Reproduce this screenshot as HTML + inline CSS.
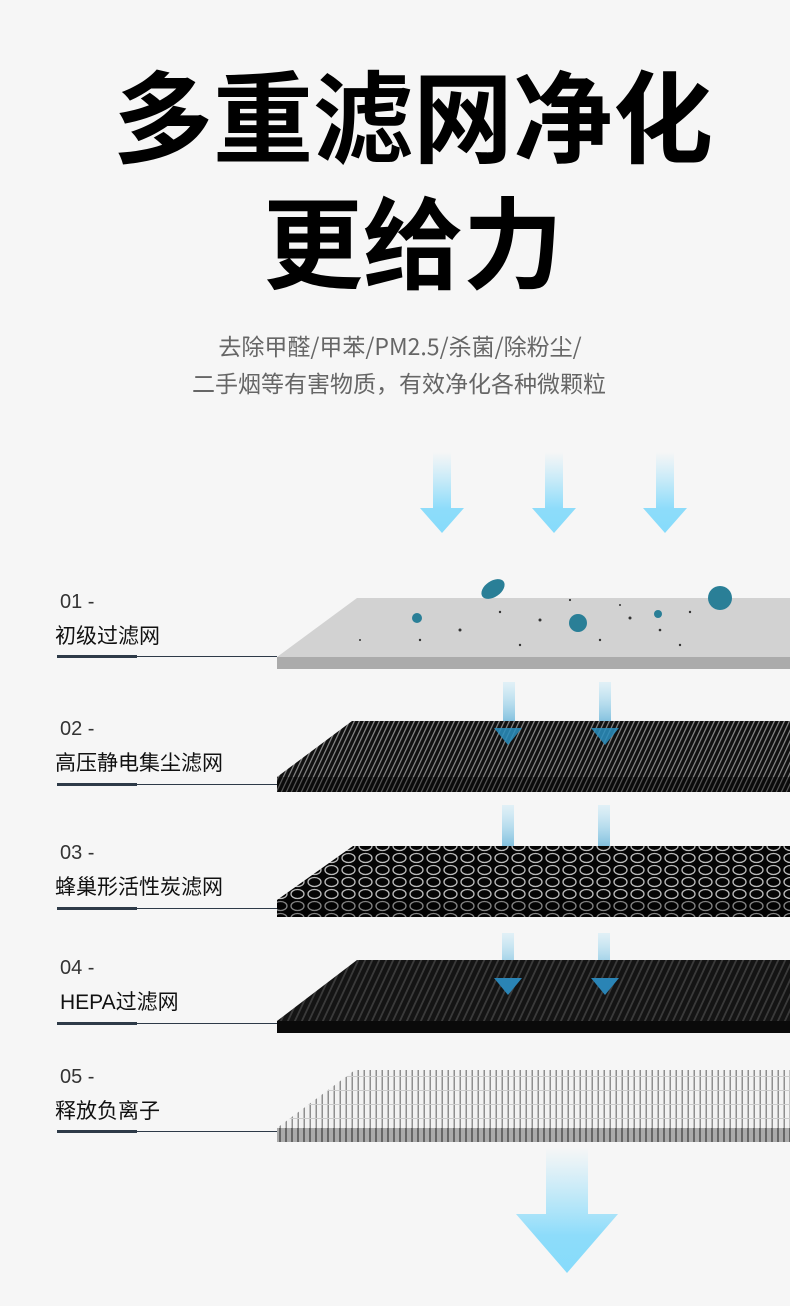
<!DOCTYPE html>
<html><head><meta charset="utf-8"><style>
html,body{margin:0;padding:0;background:#f6f6f6;}
body{width:790px;height:1306px;position:relative;overflow:hidden;font-family:"Liberation Sans","Noto Sans CJK SC",sans-serif;}
.t{position:absolute;left:0;width:826px;text-align:center;font-weight:700;font-size:100px;color:#000;line-height:1;font-family:"Noto Sans CJK SC",sans-serif;}
.s{position:absolute;left:0;width:800px;text-align:center;font-size:23px;color:#666;line-height:1;font-family:"Noto Sans CJK SC",sans-serif;}
.n{position:absolute;left:60px;font-size:20px;color:#333;line-height:1;}
.m{position:absolute;left:55px;font-size:21px;color:#111;line-height:1;font-family:"Liberation Sans","Noto Sans CJK SC",sans-serif;}
</style></head><body>
<div class="t" style="top:62px">多重滤网净化</div>
<div class="t" style="top:188px">更给力</div>
<div class="s" style="top:334px">去除甲醛/甲苯/PM2.5/杀菌/除粉尘/</div>
<div class="s" style="top:371px;left:-1px">二手烟等有害物质，有效净化各种微颗粒</div>

<svg width="790" height="1306" style="position:absolute;left:0;top:0">
<defs>
<linearGradient id="ag" x1="0" y1="0" x2="0" y2="1"><stop offset="0" stop-color="#9ee0fa" stop-opacity="0"/><stop offset="0.7" stop-color="#8ddcfa"/><stop offset="1" stop-color="#86dbfb"/></linearGradient>
<linearGradient id="ag2" x1="0" y1="0" x2="0" y2="1"><stop offset="0" stop-color="#8fd8f6" stop-opacity="0.2"/><stop offset="1" stop-color="#2f8fbf"/></linearGradient>
<pattern id="p2" width="5" height="10" patternUnits="userSpaceOnUse" patternTransform="skewX(-25)"><rect width="5" height="10" fill="#111"/><rect width="1.3" height="10" fill="#8a8a8a"/></pattern>
<pattern id="p3" width="17" height="12" patternUnits="userSpaceOnUse"><rect width="17" height="12" fill="#050505"/><ellipse cx="8.5" cy="6" rx="6.5" ry="4.5" fill="none" stroke="#bbb" stroke-width="1.3"/></pattern>
<pattern id="p4" width="7" height="10" patternUnits="userSpaceOnUse" patternTransform="skewX(-25)"><rect width="7" height="10" fill="#141414"/><rect width="2" height="10" fill="#3a3a3a"/></pattern>
<pattern id="p5" width="6" height="14" patternUnits="userSpaceOnUse"><rect width="6" height="14" fill="#f2f2f2"/><rect x="3.5" width="1.5" height="14" fill="#8f8f8f"/><rect y="12" width="6" height="1" fill="#ccc"/></pattern>
<pattern id="p5e" width="6" height="10" patternUnits="userSpaceOnUse"><rect width="6" height="10" fill="#aaa"/><rect x="3" width="2" height="10" fill="#666"/></pattern>
</defs>

<g fill="url(#ag)">
<path d="M433 452h18v56h13l-22 25-22-25h13z"/>
<path d="M545 452h18v56h13l-22 25-22-25h13z"/>
<path d="M656 452h18v56h13l-22 25-22-25h13z"/>
</g>

<path d="M357 598H790V657H277Z" fill="#d2d2d2"/>
<rect x="277" y="657" width="513" height="12" fill="#ababab"/>
<g fill="#333">
<circle cx="420" cy="640" r="1.2"/><circle cx="460" cy="630" r="1.5"/><circle cx="520" cy="645" r="1.2"/><circle cx="540" cy="620" r="1.5"/><circle cx="600" cy="640" r="1.2"/><circle cx="630" cy="618" r="1.5"/><circle cx="660" cy="630" r="1.3"/><circle cx="680" cy="645" r="1.2"/><circle cx="620" cy="605" r="1"/><circle cx="690" cy="612" r="1.2"/><circle cx="570" cy="600" r="1.1"/><circle cx="360" cy="640" r="1"/><circle cx="500" cy="612" r="1.2"/>
</g>
<g fill="#2a7f97"><circle cx="417" cy="618" r="5"/><ellipse cx="493" cy="589" rx="13" ry="8" transform="rotate(-35 493 589)"/><circle cx="578" cy="623" r="9"/><circle cx="658" cy="614" r="4"/><circle cx="720" cy="598" r="12"/></g>

<g fill="url(#ag2)">
<path d="M503 682h12v46h7l-14 17-14-17h9z"/>
<path d="M599 682h12v46h8l-14 17-14-17h8z"/>
</g>
<path d="M352 721H790V777H277Z" fill="url(#p2)"/>
<rect x="277" y="777" width="513" height="15" fill="url(#p2)"/>
<rect x="277" y="777" width="513" height="15" fill="#000" opacity="0.35"/>
<g fill="#2a8fbf" opacity="0.85"><path d="M494 728h28l-14 17z"/><path d="M591 728h28l-14 17z"/></g>

<g fill="url(#ag2)">
<path d="M502 805h12v46h8l-14 19-14-19h8z"/>
<path d="M598 805h12v46h8l-14 19-14-19h8z"/>
</g>
<path d="M353 846H790V900H277Z" fill="url(#p3)"/>
<rect x="277" y="900" width="513" height="17" fill="url(#p3)"/>
<rect x="277" y="900" width="513" height="17" fill="#000" opacity="0.3"/>

<g fill="url(#ag2)">
<path d="M502 933h12v45h8l-14 17-14-17h8z"/>
<path d="M598 933h12v45h8l-14 17-14-17h8z"/>
</g>
<path d="M357 960H790V1021H277Z" fill="url(#p4)"/>
<rect x="277" y="1021" width="513" height="12" fill="#0a0a0a"/>
<g fill="#2a84b5"><path d="M494 978h28l-14 17z"/><path d="M591 978h28l-14 17z"/></g>

<path d="M355 1070H790V1128H277Z" fill="url(#p5)"/>
<rect x="277" y="1128" width="513" height="14" fill="url(#p5e)"/>

<path d="M546 1148h42v66h30l-51 59-51-59h30z" fill="url(#ag)"/>

<g fill="#2e3a48">
<rect x="57" y="655" width="80" height="3"/><rect x="137" y="656" width="140" height="1"/>
<rect x="57" y="783" width="80" height="3"/><rect x="137" y="784" width="140" height="1"/>
<rect x="57" y="907" width="80" height="3"/><rect x="137" y="908" width="140" height="1"/>
<rect x="57" y="1022" width="80" height="3"/><rect x="137" y="1023" width="140" height="1"/>
<rect x="57" y="1130" width="80" height="3"/><rect x="137" y="1131" width="140" height="1"/>
</g>
</svg>

<div class="n" style="top:592px">01 -</div><div class="m" style="top:626px">初级过滤网</div>
<div class="n" style="top:719px">02 -</div><div class="m" style="top:753px">高压静电集尘滤网</div>
<div class="n" style="top:843px">03 -</div><div class="m" style="top:877px">蜂巢形活性炭滤网</div>
<div class="n" style="top:958px">04 -</div><div class="m" style="top:992px;left:60px">HEPA过滤网</div>
<div class="n" style="top:1067px">05 -</div><div class="m" style="top:1101px">释放负离子</div>
</body></html>
